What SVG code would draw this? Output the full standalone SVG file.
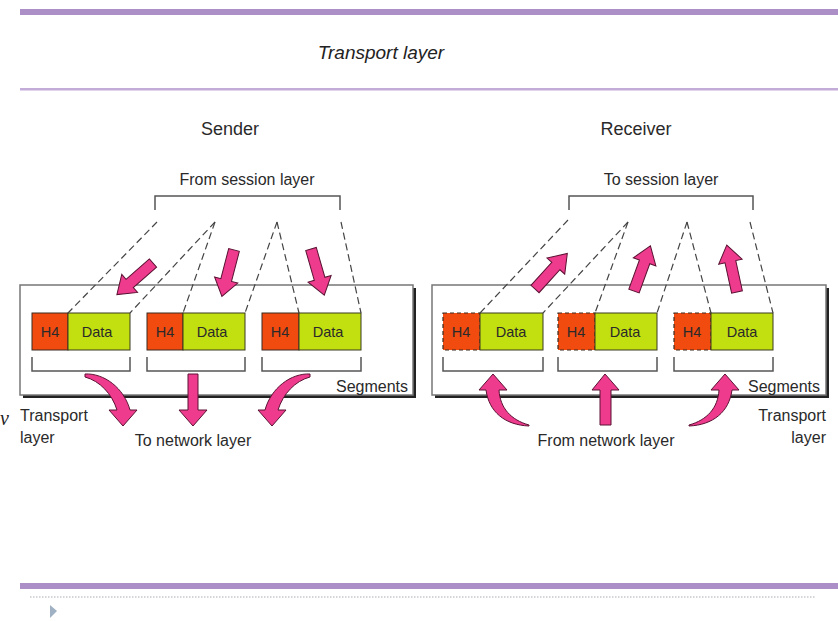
<svg xmlns="http://www.w3.org/2000/svg" xmlns:xlink="http://www.w3.org/1999/xlink" width="838" height="621" viewBox="0 0 838 621">
<style>
  .lbl{font-family:"Liberation Sans",Arial,sans-serif;font-size:16px;fill:#2a2a2a}
  .hd{font-family:"Liberation Sans",Arial,sans-serif;font-size:18px;fill:#2a2a2a}
  .cell{font-family:"Liberation Sans",Arial,sans-serif;font-size:14.5px;fill:#2a2a2a}
  .h4{fill:#f24b10;stroke:#3a2a20;stroke-width:1}
  .h4d{fill:#f24b10;stroke:#3a2a20;stroke-width:1.2;stroke-dasharray:4 3}
  .data{fill:#c2df10;stroke:#3a3a20;stroke-width:1}
  .dash{fill:none;stroke:#444;stroke-width:1.2;stroke-dasharray:7 4}
  .brk{fill:none;stroke:#555;stroke-width:1.5}
  .arr{fill:#ee3b8e;stroke:#5a1232;stroke-width:1}
  .box{fill:#fff;stroke:#777;stroke-width:1.5}
  .shadow{fill:#222}
</style>
<defs>
  <path id="arr" d="M0,-5.5 L31,-5.5 L31,-12 L48,0 L31,12 L31,5.5 L0,5.5 Z"/>
</defs>
<rect width="838" height="621" fill="#fff"/>
<!-- page decoration -->
<rect x="20" y="9" width="818" height="6" fill="#ad8fc8"/>
<rect x="20" y="88" width="818" height="2.5" fill="#c3acd8"/>
<rect x="20" y="583" width="818" height="6" fill="#ad8fc8"/>
<line x1="30" y1="597" x2="815" y2="597" stroke="#d6d6da" stroke-width="2" stroke-dasharray="1.5 1.5"/>
<polygon points="50,605 57,611 50,618" fill="#9fb1c2"/>
<text x="381" y="59" text-anchor="middle" font-family="Liberation Sans,Arial,sans-serif" font-style="italic" font-size="19" fill="#222">Transport layer</text>
<text x="0" y="425" font-family="Liberation Serif,serif" font-style="italic" font-size="20" fill="#222">v</text>

<!-- Sender -->
<g id="sender">
  <text class="hd" x="230" y="135" text-anchor="middle">Sender</text>
  <text class="lbl" x="247" y="185" text-anchor="middle">From session layer</text>
  <path class="brk" d="M155,210 V196 H340 V210"/>
  <rect class="shadow" x="23" y="288" width="393" height="110"/>
  <rect class="box" x="20" y="285" width="393" height="110"/>
  <text class="lbl" x="408" y="392" text-anchor="end">Segments</text>
  <text class="lbl" x="20" y="421">Transport</text>
  <text class="lbl" x="20" y="443">layer</text>
  <text class="lbl" x="193" y="446" text-anchor="middle">To network layer</text>
</g>
<g id="s-seg1">
  <rect class="h4" x="32" y="313" width="36" height="37"/>
  <rect class="data" x="68" y="313" width="62" height="37"/>
  <text class="cell" x="50" y="337" text-anchor="middle">H4</text>
  <text class="cell" x="97" y="337" text-anchor="middle">Data</text>
  <path class="brk" d="M32,357 V371 H130 V357"/>
</g>
<g id="s-seg2">
  <rect class="h4" x="147" y="313" width="36" height="37"/>
  <rect class="data" x="183" y="313" width="62" height="37"/>
  <text class="cell" x="165" y="337" text-anchor="middle">H4</text>
  <text class="cell" x="212" y="337" text-anchor="middle">Data</text>
  <path class="brk" d="M147,357 V371 H245 V357"/>
</g>
<g id="s-seg3">
  <rect class="h4" x="262" y="313" width="37" height="37"/>
  <rect class="data" x="299" y="313" width="62" height="37"/>
  <text class="cell" x="280" y="337" text-anchor="middle">H4</text>
  <text class="cell" x="328" y="337" text-anchor="middle">Data</text>
  <path class="brk" d="M262,357 V371 H361 V357"/>
</g>

<!-- Receiver -->
<g id="receiver">
  <text class="hd" x="636" y="135" text-anchor="middle">Receiver</text>
  <text class="lbl" x="661" y="185" text-anchor="middle">To session layer</text>
  <path class="brk" d="M569,210 V196 H753 V210"/>
  <rect class="shadow" x="435" y="288" width="394" height="110"/>
  <rect class="box" x="432" y="285" width="394" height="110"/>
  <text class="lbl" x="820" y="392" text-anchor="end">Segments</text>
  <text class="lbl" x="826" y="421" text-anchor="end">Transport</text>
  <text class="lbl" x="826" y="443" text-anchor="end">layer</text>
  <text class="lbl" x="606" y="446" text-anchor="middle">From network layer</text>
</g>
<g id="r-seg1">
  <rect class="h4d" x="443" y="313" width="37" height="37"/>
  <rect class="data" x="480" y="313" width="63" height="37"/>
  <text class="cell" x="461" y="337" text-anchor="middle">H4</text>
  <text class="cell" x="511" y="337" text-anchor="middle">Data</text>
  <path class="brk" d="M443,357 V371 H543 V357"/>
</g>
<g id="r-seg2">
  <rect class="h4d" x="558" y="313" width="37" height="37"/>
  <rect class="data" x="595" y="313" width="62" height="37"/>
  <text class="cell" x="576" y="337" text-anchor="middle">H4</text>
  <text class="cell" x="625" y="337" text-anchor="middle">Data</text>
  <path class="brk" d="M558,357 V371 H657 V357"/>
</g>
<g id="r-seg3">
  <rect class="h4d" x="674" y="313" width="37" height="37"/>
  <rect class="data" x="711" y="313" width="62" height="37"/>
  <text class="cell" x="692" y="337" text-anchor="middle">H4</text>
  <text class="cell" x="742" y="337" text-anchor="middle">Data</text>
  <path class="brk" d="M674,357 V371 H773 V357"/>
</g>

<!-- connectors -->
<g id="connectors">
  <line class="dash" x1="157" y1="222" x2="68" y2="313"/>
  <line class="dash" x1="215" y1="222" x2="130" y2="313"/>
  <line class="dash" x1="215" y1="222" x2="183" y2="313"/>
  <line class="dash" x1="277" y1="222" x2="245" y2="313"/>
  <line class="dash" x1="277" y1="222" x2="299" y2="313"/>
  <line class="dash" x1="341" y1="222" x2="361" y2="313"/>

  <line class="dash" x1="568" y1="220" x2="480" y2="313"/>
  <line class="dash" x1="628" y1="222" x2="543" y2="313"/>
  <line class="dash" x1="628" y1="222" x2="595" y2="313"/>
  <line class="dash" x1="687" y1="222" x2="657" y2="313"/>
  <line class="dash" x1="687" y1="222" x2="711" y2="313"/>
  <line class="dash" x1="750" y1="222" x2="773" y2="313"/>

  <use xlink:href="#arr" class="arr" transform="translate(153,263) rotate(138.8)"/>
  <use xlink:href="#arr" class="arr" transform="translate(234,250) rotate(104.6)"/>
  <use xlink:href="#arr" class="arr" transform="translate(311,249) rotate(73.9)"/>

  <use xlink:href="#arr" class="arr" transform="translate(535,289) rotate(-47.7)"/>
  <use xlink:href="#arr" class="arr" transform="translate(634,291) rotate(-70)"/>
  <use xlink:href="#arr" class="arr" transform="translate(737,292) rotate(-102.3)"/>

  <path class="arr" d="M85,374 C104,373 124,388 130,410 L137,410 L123,426 L109,410 L117,410 C112,394 100,381 85,377 Z"/>
  <path class="arr" d="M188,374 L198,374 L198,410 L207,410 L193,426 L179,410 L188,410 Z"/>
  <path class="arr" transform="translate(395,0) scale(-1,1)" d="M85,374 C104,373 124,388 130,410 L137,410 L123,426 L109,410 L117,410 C112,394 100,381 85,377 Z"/>

  <path class="arr" d="M493,374 L507,390 L499,390 C500,408 511,420 529,425 L529,426 C505,425 489,412 486,390 L479,390 Z"/>
  <path class="arr" d="M605,374 L619,390 L611,390 L611,425 L600,425 L600,390 L592,390 Z"/>
  <path class="arr" transform="translate(1218,0) scale(-1,1)" d="M493,374 L507,390 L499,390 C500,408 511,420 529,425 L529,426 C505,425 489,412 486,390 L479,390 Z"/>
</g>
</svg>
